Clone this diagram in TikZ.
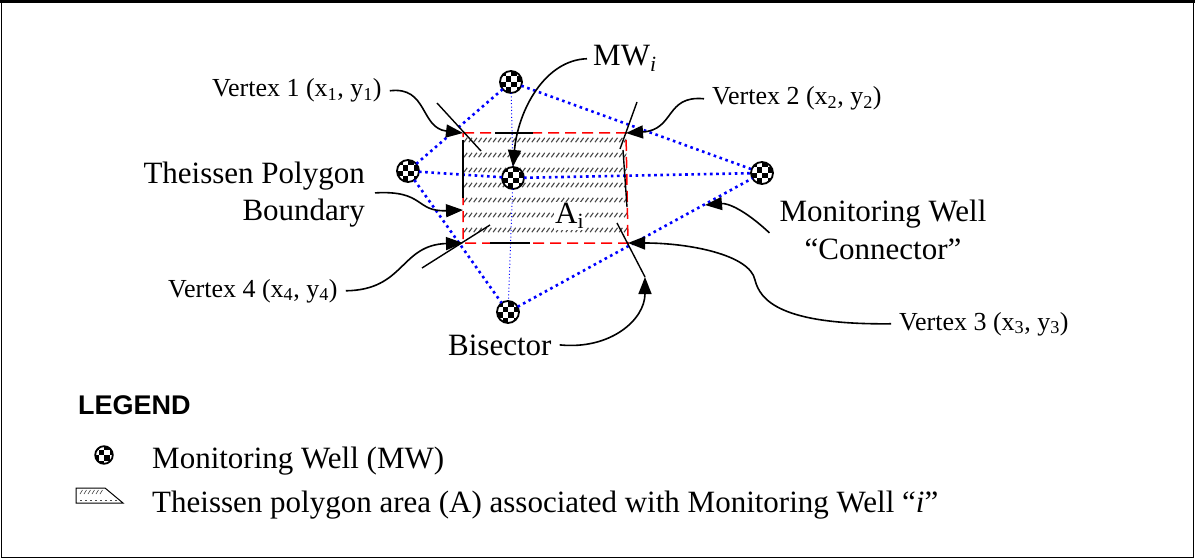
\documentclass[tikz,border=0pt]{standalone}
\usepackage{fontspec}
\setmainfont{Liberation Serif}
\newfontfamily\legendfont{Liberation Sans}
\usetikzlibrary{arrows.meta}
\begin{document}
\begin{tikzpicture}[x=1pt,y=-1pt,
  big/.style={font=\fontsize{31}{37}\selectfont, inner sep=0pt},
  small/.style={font=\fontsize{26}{30}\selectfont, inner sep=0pt},
  conn/.style={blue, line width=2.6pt, dash pattern=on 2.6pt off 3.6pt},
  thinconn/.style={blue, line width=1pt, dash pattern=on 1pt off 2.4pt},
  bound/.style={red, line width=1.5pt, dash pattern=on 11pt off 6pt},
  bis/.style={black, line width=1.4pt},
  callout/.style={black, line width=1.6pt, -{Triangle[length=17pt,width=13pt]}},
  hatch/.style={black!72, line width=1.1pt},
  well/.style={circle, draw=black, line width=1.8pt, fill=white,
    minimum size=#1*22pt, inner sep=0pt, outer sep=0pt,
    path picture={\begin{scope}[shift={(path picture bounding box.center)}, scale=#1]
      \foreach \a/\b in {-2/-2,0/-2,-1/-1,1/-1,-2/0,0/0,-1/1,1/1}
        \fill[black] (\a*5.5,\b*5.5) rectangle ++(5.5,5.5);
      \end{scope}}},
  well/.default=1
]
\useasboundingbox (0,0) rectangle (1195,559);
\draw[line width=1.5pt] (1.5,1.5) rectangle (1193.5,557.5);
\draw[line width=3pt] (0,1.5) -- (1195,1.5);

% polygon corners
\coordinate (P1) at (463,133);
\coordinate (P2) at (626,133);
\coordinate (P3) at (628,243);
\coordinate (P4) at (463,243);
\coordinate (Bnd) at (463,210);
\coordinate (Cn) at (705,205);

% hatched area
\begin{scope}
  \clip (P1) -- (P2) -- (P3) -- (P4) -- cycle;
  \foreach \yy in {140,155,...,230}
    \foreach \xx in {464,468.85,...,628}
      \draw[hatch] (\xx,\yy+2.2) -- ++(3.2,-4.4);
\end{scope}
\node[big, fill=white, inner sep=1pt, anchor=base west] (ai) at (554,223) {A\textsubscript{i}};

% wells
\node[well] (T) at (511,82) {};
\node[well] (L) at (408,171) {};
\node[well] (C) at (513,178) {};
\node[well] (R) at (762,173) {};
\node[well] (B) at (508,312) {};

% connectors
\draw[conn] (T) -- (L);
\draw[conn] (T) -- (R);
\draw[conn] (L) -- (C);
\draw[conn] (C) -- (R);
\draw[conn] (L) -- (B);
\draw[conn] (B) -- (R);
\draw[thinconn] (T) -- (C);
\draw[thinconn] (C) -- (B);

% boundary
\draw[bound] (P1) -- (P2) -- (P3) -- (P4) -- cycle;

% bisectors
\draw[bis] (463,140) -- (463,198);
\draw[bis] (495,133) -- (533,133);
\draw[bis] (490,243) -- (530,243);
\draw[bis] (623,150) -- (627,207);
\draw[bis] (437,103) -- (481,151);
\draw[bis] (637,102) -- (620,149);
\draw[bis] (490,225) -- (422,268);
\coordinate (b3s) at (617,223);
\coordinate (b3e) at (645,277);
\draw[bis] (b3s) -- (b3e);

% labels
\node[small, anchor=base west] (v1) at (212,97) {Vertex 1 (x\textsubscript{1}, y\textsubscript{1})};
\node[small, anchor=base west] (v2) at (712,105) {Vertex 2 (x\textsubscript{2}, y\textsubscript{2})};
\node[small, anchor=base west] (v3) at (899,330) {Vertex 3 (x\textsubscript{3}, y\textsubscript{3})};
\node[small, anchor=base west] (v4) at (168,297) {Vertex 4 (x\textsubscript{4}, y\textsubscript{4})};
\node[big, anchor=base west] (mwi) at (593,66) {MW\textsubscript{\textit{i}}};
\node[big, anchor=base east] (tpb1) at (365,184) {Theissen Polygon};
\node[big, anchor=base east] (tpb2) at (365,221) {Boundary};
\node[big, anchor=base] (mwc1) at (883,222) {Monitoring Well};
\node[big, anchor=base] (mwc2) at (883,259) {``Connector''};
\node[big, anchor=base west] (bis) at (448,355) {Bisector};

% callouts
\draw[callout] ([xshift=8pt]v1.east) .. controls (428,86) and (420,128) .. (P1);
\draw[callout] ([xshift=-8pt]v2.west) .. controls (665,95) and (675,130) .. (P2);
\draw[callout] ([xshift=-6pt]mwi.west) .. controls (545,60) and (518,110) .. (C.north);
\draw[callout] ([xshift=10pt,yshift=-2pt]tpb1.south east) .. controls (425,190) and (415,212) .. (Bnd);
\draw[callout] ([xshift=8pt]v4.east) .. controls (405,290) and (400,245) .. (P4);
\draw[callout] ([xshift=-8pt]v3.west) .. controls (780,325) and (760,300) .. (755,280) .. controls (750,255) and (690,243) .. (P3);
\draw[callout] ([xshift=8pt]bis.east) .. controls (610,350) and (645,320) .. (b3e);
\draw[callout] ([xshift=-10pt,yshift=-4pt]mwc1.south west) .. controls (745,210) and (728,203) .. (Cn);

% legend
\node[font={\legendfont\bfseries\fontsize{27}{30}\selectfont}, anchor=base west, inner sep=0pt] (leg) at (78,414) {LEGEND};
\node[well=0.8] (lw) at (104,455) {};
\node[big, anchor=base west] (l1) at (152,468) {Monitoring Well (MW)};
\draw[line width=1pt] (76,488) -- (105,488) -- (123,503) -- (76,503) -- cycle;
\foreach \xx in {80,84,...,102} \draw[hatch, line width=0.6pt] (\xx,494) -- ++(2.5,-4);
\foreach \xx in {80,85,...,115} \draw[hatch, line width=0.6pt] (\xx,500) -- ++(1.5,0);
\node[big, anchor=base west] (l2) at (152,512) {Theissen polygon area (A) associated with Monitoring Well ``\textit{i}''};
\end{tikzpicture}
\end{document}
